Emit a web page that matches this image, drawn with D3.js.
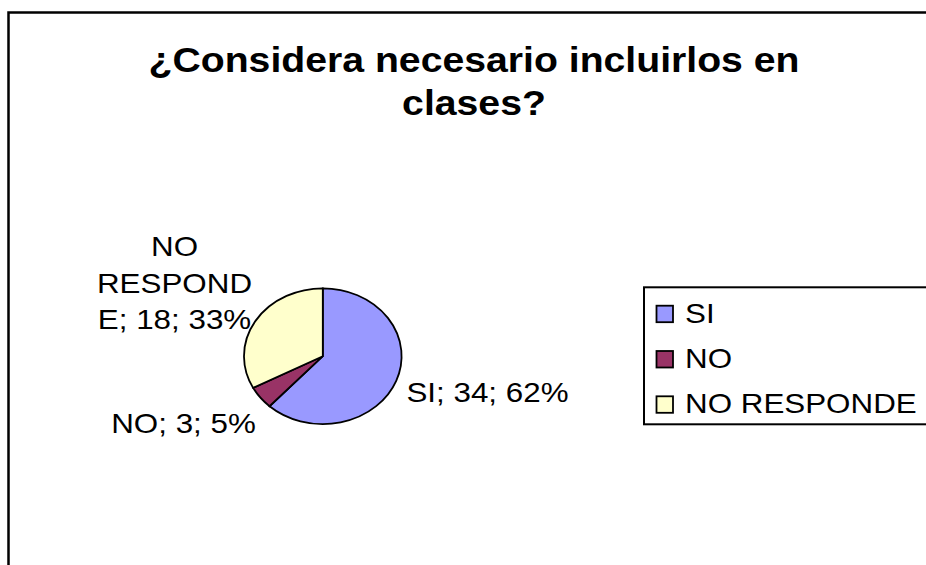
<!DOCTYPE html>
<html>
<head>
<meta charset="utf-8">
<script src="https://cdn.jsdelivr.net/npm/d3@7"></script>
<style>
    body { margin: 0; background: #fff; }
    svg { display: block; }
    text { font-family: Arial, 'Liberation Sans', sans-serif; fill: #000; }
</style>
</head>
<body>
<svg id="chart" width="926" height="565"></svg>
<script>
/**
 * Data.
 */
const categories = ['SI', 'NO', 'NO RESPONDE'];
const counts = [34, 3, 18];
const sliceColors = ['#9999ff', '#993366', '#ffffcc'];
const titleLines = ['¿Considera necesario incluirlos en', 'clases?'];

/**
 * Visual configs.
 */
const width = 926, height = 565,
    stretch = 1.12, // the original picture is stretched horizontally
    center = { x: 322.8, y: 356.2 },
    rx = 78.8, ry = 67.9,
    labelSize = 28;

const svg = d3.select('#chart');

// Frame, cut at right and bottom
svg.append('path')
    .attr('d', 'M8.5,' + (height + 5) + 'V12.5H' + (width + 5))
    .attr('fill', 'none')
    .attr('stroke', '#000')
    .attr('stroke-width', 2.5);

// Title
svg.selectAll('.title')
    .data(titleLines)
    .enter().append('text')
    .attr('class', 'title')
    .attr('transform', (d, i) => 'translate(474,' + (72 + i * 43) + ') scale(' + stretch + ',1)')
    .attr('text-anchor', 'middle')
    .style('font-size', '35px')
    .style('font-weight', 'bold')
    .text(d => d);

/**
 * Pie.
 */
const total = d3.sum(counts);
const pie = d3.pie().sort(null).value(d => d.count);
const arc = d3.arc().innerRadius(0).outerRadius(rx);
const slices = pie(categories.map((c, i) => ({ name: c, count: counts[i], color: sliceColors[i] })));

const pieContainer = svg.append('g')
    .attr('transform', 'translate(' + center.x + ',' + center.y + ') scale(1,' + (ry / rx) + ')');

pieContainer.selectAll('path')
    .data(slices)
    .enter().append('path')
    .attr('d', arc)
    .attr('fill', d => d.data.color)
    .attr('stroke', '#000')
    .attr('stroke-width', 1.8)
    .attr('vector-effect', 'non-scaling-stroke');

// Data labels: name; count; percent
const pct = d => Math.round(d.data.count / total * 100) + '%';
const labelLines = [
    [slices[0].data.name + '; ' + slices[0].data.count + '; ' + pct(slices[0])],
    [slices[1].data.name + '; ' + slices[1].data.count + '; ' + pct(slices[1])],
    ['NO', 'RESPOND', 'E; ' + slices[2].data.count + '; ' + pct(slices[2])]
];
const labelPos = [
    { x: 487.5, y: 401.7 },
    { x: 183.5, y: 433.3 },
    { x: 174.5, y: 256 }
];

labelLines.forEach((lines, i) => {
    svg.selectAll('.label-' + i)
        .data(lines)
        .enter().append('text')
        .attr('class', 'label-' + i)
        .attr('transform', (d, j) => 'translate(' + labelPos[i].x + ',' + (labelPos[i].y + j * 36.5) + ') scale(' + stretch + ',1)')
        .attr('text-anchor', 'middle')
        .style('font-size', labelSize + 'px')
        .text(d => d);
});

/**
 * Legend.
 */
const legend = svg.append('g');

legend.append('rect')
    .attr('x', 644)
    .attr('y', 287.3)
    .attr('width', 320)
    .attr('height', 137)
    .attr('fill', '#fff')
    .attr('stroke', '#000')
    .attr('stroke-width', 2);

const legendY = d3.scalePoint().domain(categories).range([322.7, 413.3]);

const items = legend.selectAll('.item')
    .data(slices)
    .enter().append('g')
    .attr('class', 'item')
    .attr('transform', d => 'translate(0,' + legendY(d.data.name) + ')');

items.append('rect')
    .attr('x', 656.5)
    .attr('y', -17)
    .attr('width', 16.5)
    .attr('height', 16.5)
    .attr('fill', d => d.data.color)
    .attr('stroke', '#000')
    .attr('stroke-width', 1.8);

items.append('text')
    .attr('transform', 'translate(685,0) scale(' + stretch + ',1)')
    .style('font-size', labelSize + 'px')
    .text(d => d.data.name);
</script>
</body>
</html>
